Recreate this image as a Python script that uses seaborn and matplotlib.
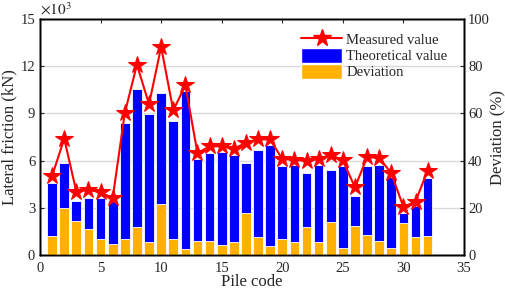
import matplotlib
matplotlib.use("Agg")
import matplotlib.pyplot as plt
import seaborn as sns
import numpy as np
import pandas as pd
from matplotlib.patches import Patch
from matplotlib.lines import Line2D

pile = list(range(1, 33))
theoretical = [4.56, 5.84, 3.44, 3.63, 3.65, 3.42, 8.41, 10.57, 8.98, 10.30,
               8.49, 10.40, 6.09, 6.48, 6.54, 6.33, 5.84, 6.69, 6.96, 5.63,
               5.69, 5.20, 5.71, 5.39, 5.67, 3.72, 5.63, 5.73, 4.95, 2.65,
               3.12, 4.90]
measured = [5.03, 7.39, 4.03, 4.14, 3.99, 3.61, 9.02, 12.10, 9.58, 13.23,
            9.19, 10.79, 6.48, 6.90, 6.92, 6.75, 7.13, 7.35, 7.35, 6.09,
            6.07, 5.97, 6.11, 6.37, 6.01, 4.30, 6.22, 6.18, 5.20, 3.05,
            3.40, 5.37]
deviation = [8.1, 20.1, 14.5, 10.9, 6.8, 4.5, 6.8, 12.0, 5.7, 21.8,
             6.9, 2.7, 6.1, 6.1, 4.4, 5.4, 17.9, 7.5, 3.8, 6.9,
             5.4, 11.7, 5.4, 14.1, 2.8, 12.5, 8.5, 6.1, 2.8, 13.5,
             7.5, 7.9]

df = pd.DataFrame({"pile": pile, "theo": theoretical, "meas": measured, "dev": deviation})

sns.set_style("ticks")
plt.rcParams["font.family"] = ["Liberation Serif", "DejaVu Serif"]
plt.rcParams["mathtext.fontset"] = "stix"

fig = plt.figure(figsize=(5.05, 2.91), dpi=100)
ax = fig.add_axes([0.0792, 0.1237, 0.8396, 0.811])
ax2 = ax.twinx()
ax3 = ax.twinx()

blue = "#0000FF"
orange = "#FFB000"

sns.barplot(data=df, x="pile", y="theo", native_scale=True, width=0.8,
            color=blue, saturation=1, edgecolor="white", linewidth=0.6, ax=ax)
sns.barplot(data=df, x="pile", y="dev", native_scale=True, width=0.8,
            color=orange, saturation=1, edgecolor="white", linewidth=0.6, ax=ax2)
sns.lineplot(data=df, x="pile", y="meas", color="red", marker="*",
             markersize=13, markeredgecolor="red", linewidth=1.5, ax=ax3)

for a in (ax, ax2, ax3):
    a.set_xlim(0, 35)
ax.set_ylim(0, 15)
ax3.set_ylim(0, 15)
ax2.set_ylim(0, 100)

ax.set_xticks(np.arange(0, 36, 5))
ax.set_yticks(np.arange(0, 16, 3))
ax2.set_yticks(np.arange(0, 101, 20))
ax3.set_yticks([])
ax3.set_ylabel("")
ax3.set_xlabel("")
ax2.set_xlabel("")

ax.yaxis.grid(True, color="#d9d9d9", linewidth=1.0)
ax.set_axisbelow(True)

ax.tick_params(axis="both", direction="in", labelsize=10.5, top=True, length=3)
ax.tick_params(axis="x", pad=5)
ax2.tick_params(axis="y", direction="in", labelsize=10.5, length=3, pad=3)
ax3.tick_params(axis="y", right=False, labelright=False)

ax.set_xlabel("Pile code", fontsize=12, labelpad=-1)
ax.set_ylabel("Lateral friction (kN)", fontsize=12, labelpad=2)
ax2.set_ylabel("Deviation (%)", fontsize=12, labelpad=0)
ax.text(0.0, 1.005, r"$\times10^3$", transform=ax.transAxes, fontsize=11,
        ha="left", va="bottom")

for a in (ax, ax2, ax3):
    for s in a.spines.values():
        s.set_linewidth(1.0)
        s.set_color("black")

handles = [Line2D([], [], color="red", marker="*", markersize=13, linewidth=1.5),
           Patch(facecolor=blue), Patch(facecolor=orange)]
labels = ["Measured value", "Theoretical value", "Deviation"]
ax3.legend(handles, labels, loc="upper right", bbox_to_anchor=(0.985, 0.99),
           frameon=False, fontsize=10.5, handlelength=2.8, handleheight=1.2,
           labelspacing=0.05, borderpad=0.2, handletextpad=0.3)

fig.savefig("out.png", dpi=100)
